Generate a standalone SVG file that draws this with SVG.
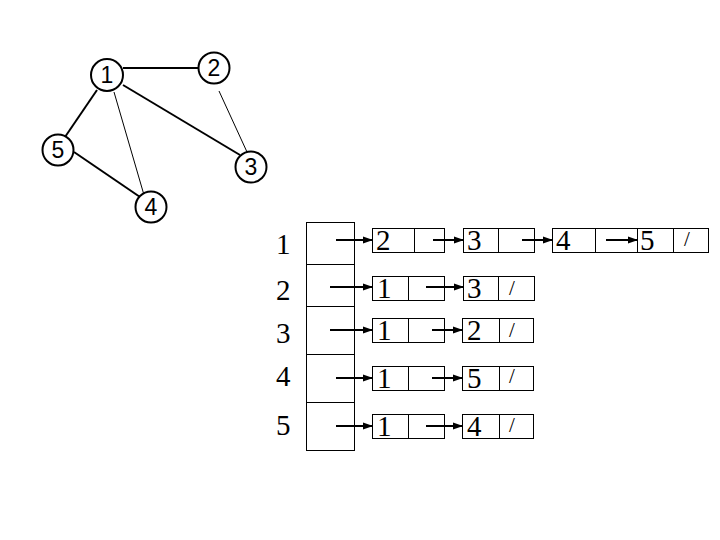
<svg xmlns="http://www.w3.org/2000/svg" width="720" height="540" viewBox="0 0 720 540">
<defs>
<marker id="ah" markerUnits="userSpaceOnUse" markerWidth="10" markerHeight="8" refX="9" refY="4" orient="auto">
<path d="M0,0.5 L10,4 L0,7.5 z" fill="#000"/>
</marker>
<style>
.c{fill:#fff;stroke:#000;stroke-width:2}
.cl{font-family:"Liberation Sans",Arial,sans-serif;font-size:23px;text-anchor:middle}
.e{stroke:#000;stroke-width:2;fill:none}
.et{stroke:#000;stroke-width:1;fill:none}
.b{fill:#fff;stroke:#000;stroke-width:1;shape-rendering:crispEdges}
.t{font-family:"Liberation Serif","Times New Roman",serif;font-size:29px}
.s{font-family:"Liberation Serif","Times New Roman",serif;font-size:21px}
.a{stroke:#000;stroke-width:2;fill:none;marker-end:url(#ah)}
</style>
</defs>
<rect width="720" height="540" fill="#fff"/>
<g id="edges">
<line class="e" x1="123" y1="68" x2="198" y2="68"/>
<line class="e" x1="123" y1="85" x2="240" y2="155"/>
<line class="e" x1="97" y1="90" x2="65" y2="137"/>
<line class="et" x1="114" y1="92" x2="144" y2="195"/>
<line class="e" x1="74" y1="152" x2="140" y2="197"/>
<line class="et" x1="219" y1="91" x2="247" y2="152"/>
</g>
<g id="g1"><circle class="c" cx="107" cy="75" r="16"/><text class="cl" x="107" y="83">1</text></g>
<g id="g2"><circle class="c" cx="214" cy="68" r="15.5"/><text class="cl" x="214" y="76">2</text></g>
<g id="g3"><circle class="c" cx="251" cy="167" r="15.5"/><text class="cl" x="251" y="175">3</text></g>
<g id="g4"><circle class="c" cx="151" cy="207" r="15.5"/><text class="cl" x="151" y="215">4</text></g>
<g id="g5"><circle class="c" cx="58" cy="150" r="15.5"/><text class="cl" x="58" y="158">5</text></g>

<g id="array">
<rect class="b" x="306" y="222" width="48" height="228"/>
<line class="b" x1="306" y1="264" x2="354" y2="264"/>
<line class="b" x1="306" y1="306" x2="354" y2="306"/>
<line class="b" x1="306" y1="354" x2="354" y2="354"/>
<line class="b" x1="306" y1="402" x2="354" y2="402"/>
<text class="t" x="276" y="254">1</text>
<text class="t" x="276" y="300">2</text>
<text class="t" x="276" y="343">3</text>
<text class="t" x="276" y="386">4</text>
<text class="t" x="276" y="435">5</text>
</g>

<g id="row1">
<rect class="b" x="372" y="228" width="72" height="24"/><line class="b" x1="414" y1="228" x2="414" y2="252"/><text class="t" x="376" y="250">2</text>
<rect class="b" x="463" y="228" width="71" height="24"/><line class="b" x1="498" y1="228" x2="498" y2="252"/><text class="t" x="467" y="250">3</text>
<rect class="b" x="552" y="228" width="85" height="24"/><line class="b" x1="595" y1="228" x2="595" y2="252"/><text class="t" x="556" y="250">4</text>
<rect class="b" x="637" y="228" width="71" height="24"/><line class="b" x1="673" y1="228" x2="673" y2="252"/><text class="t" x="640" y="250">5</text><text class="s" x="684" y="246">/</text>
</g>
<g id="row2">
<rect class="b" x="372" y="276" width="72" height="24"/><line class="b" x1="408" y1="276" x2="408" y2="300"/><text class="t" x="377" y="298">1</text>
<rect class="b" x="463" y="276" width="71" height="24"/><line class="b" x1="498" y1="276" x2="498" y2="300"/><text class="t" x="467" y="298">3</text><text class="s" x="509" y="295">/</text>
</g>
<g id="row3">
<rect class="b" x="372" y="318" width="72" height="24"/><line class="b" x1="408" y1="318" x2="408" y2="342"/><text class="t" x="377" y="340">1</text>
<rect class="b" x="462" y="318" width="71" height="24"/><line class="b" x1="499" y1="318" x2="499" y2="342"/><text class="t" x="467" y="340">2</text><text class="s" x="509" y="337">/</text>
</g>
<g id="row4">
<rect class="b" x="372" y="366" width="72" height="24"/><line class="b" x1="408" y1="366" x2="408" y2="390"/><text class="t" x="377" y="388">1</text>
<rect class="b" x="462" y="366" width="71" height="24"/><line class="b" x1="499" y1="366" x2="499" y2="390"/><text class="t" x="467" y="388">5</text><text class="s" x="509" y="383">/</text>
</g>
<g id="row5">
<rect class="b" x="372" y="414" width="72" height="24"/><line class="b" x1="408" y1="414" x2="408" y2="438"/><text class="t" x="377" y="436">1</text>
<rect class="b" x="462" y="414" width="71" height="24"/><line class="b" x1="499" y1="414" x2="499" y2="438"/><text class="t" x="467" y="436">4</text><text class="s" x="509" y="432">/</text>
</g>

<g id="connectors">
<line class="a" x1="336" y1="240" x2="372" y2="240"/>
<line class="a" x1="433" y1="240" x2="463" y2="240"/>
<line class="a" x1="522" y1="240" x2="552" y2="240"/>
<line class="a" x1="606" y1="240" x2="637" y2="240"/>
<line class="a" x1="330" y1="287" x2="372" y2="287"/>
<line class="a" x1="426" y1="287" x2="463" y2="287"/>
<line class="a" x1="330" y1="330" x2="372" y2="330"/>
<line class="a" x1="432" y1="330" x2="462" y2="330"/>
<line class="a" x1="336" y1="378" x2="372" y2="378"/>
<line class="a" x1="432" y1="378" x2="462" y2="378"/>
<line class="a" x1="336" y1="426" x2="372" y2="426"/>
<line class="a" x1="426" y1="426" x2="462" y2="426"/>
</g>
</svg>
